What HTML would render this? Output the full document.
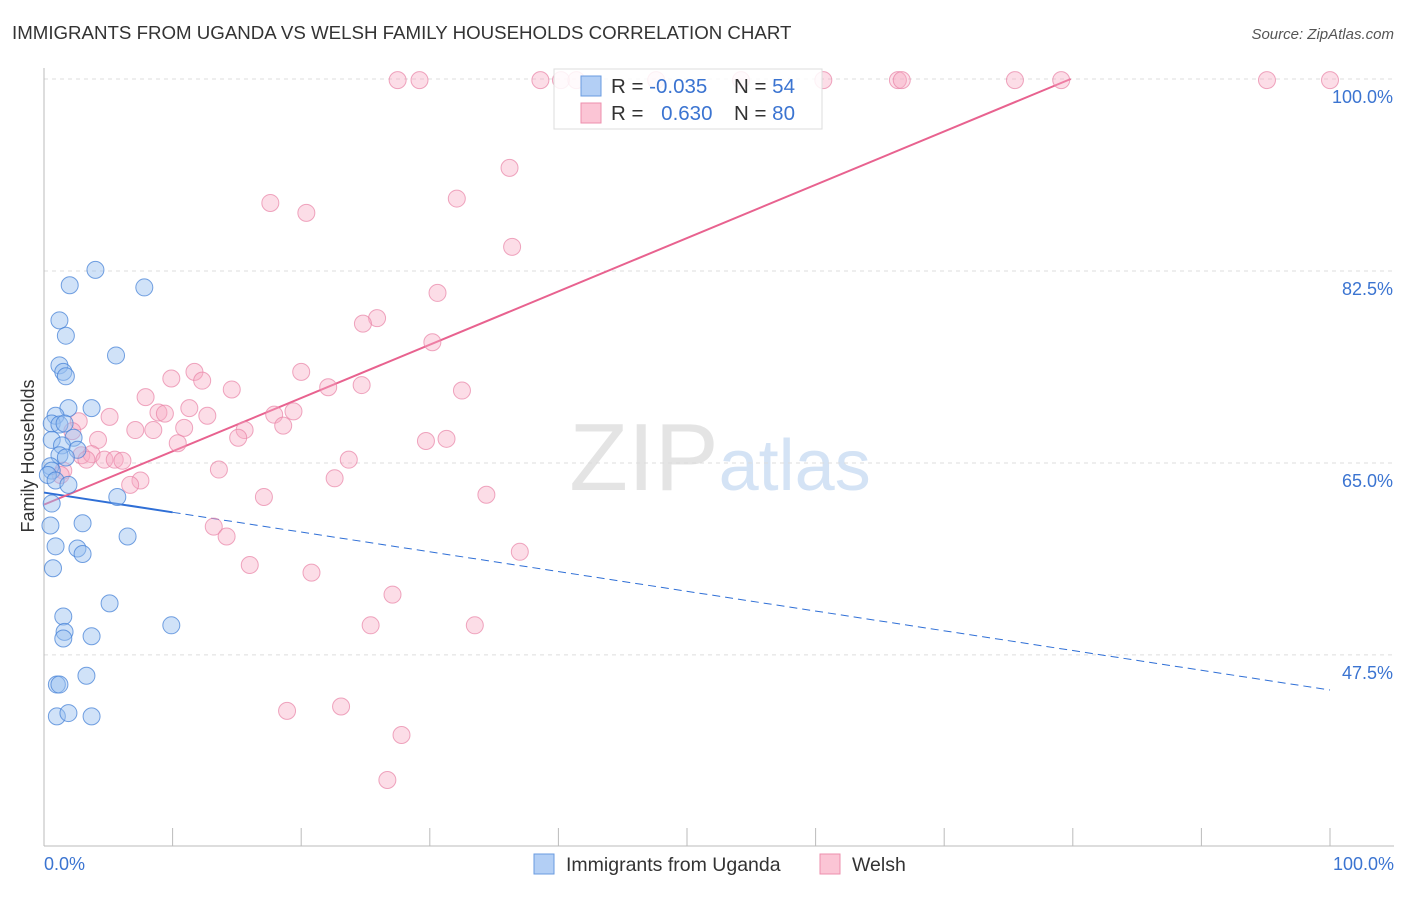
<!DOCTYPE html>
<html><head><meta charset="utf-8"><style>
body{margin:0;background:#fff;font-family:"Liberation Sans",sans-serif}
svg text{font-family:"Liberation Sans",sans-serif}
</style></head><body>
<svg id="chart" width="1406" height="892" xmlns="http://www.w3.org/2000/svg">
<text x="12" y="39" font-size="18.7" fill="#333">IMMIGRANTS FROM UGANDA VS WELSH FAMILY HOUSEHOLDS CORRELATION CHART</text>
<text x="1394" y="39" font-size="15" fill="#555" text-anchor="end" font-style="italic">Source: ZipAtlas.com</text>
<text x="720" y="490" font-size="96" text-anchor="middle" fill="#e4e4e4" font-family="Liberation Serif"><tspan>ZIP</tspan><tspan fill="#d4e3f5" font-family="Liberation Sans" font-size="72">atlas</tspan></text>
<g id="grid"></g><g id="axes"></g><g id="lines"></g><g id="pts"></g>
<text transform="translate(34,456) rotate(-90)" font-size="18" fill="#333" text-anchor="middle">Family Households</text>
<g>
<rect x="554" y="69" width="268" height="60" fill="#fff" fill-opacity="0.85" stroke="#ddd"/>
<rect x="581" y="76" width="20" height="20" fill="#b3cff5" stroke="#6a9be0"/>
<rect x="581" y="103" width="20" height="20" fill="#fbc5d5" stroke="#ee8fad"/>
<text x="611" y="93" font-size="20.5" fill="#333">R = <tspan fill="#3b74d1">-0.035</tspan></text>
<text x="734" y="93" font-size="20.5" fill="#333">N = <tspan fill="#3b74d1">54</tspan></text>
<text x="611" y="120" font-size="20.5" fill="#333">R = <tspan fill="#3b74d1" dx="12">0.630</tspan></text>
<text x="734" y="120" font-size="20.5" fill="#333">N = <tspan fill="#3b74d1">80</tspan></text>
</g>
<g>
<rect x="534" y="854" width="20" height="20" fill="#b3cff5" stroke="#6a9be0"/>
<text x="566" y="871" font-size="19.5" fill="#333">Immigrants from Uganda</text>
<rect x="820" y="854" width="20" height="20" fill="#fbc5d5" stroke="#ee8fad"/>
<text x="852" y="871" font-size="19.5" fill="#333">Welsh</text>
</g>
</svg>
<script>
const yTicks=[100,82.5,65,47.5];
const yTickLabels=["100.0%","82.5%","65.0%","47.5%"];
const blueX=[4.0,2.0,7.8,1.2,1.7,5.6,1.2,1.5,1.7,1.9,3.7,0.9,0.6,1.2,1.6,2.3,0.6,1.4,2.6,1.2,1.7,0.5,0.6,0.3,0.9,1.9,5.7,0.6,0.5,3.0,6.5,0.9,2.6,3.0,0.7,5.1,1.5,1.6,1.5,3.7,9.9,3.3,1.0,1.2,1.0,1.9,3.7];
const blueY=[82.6,81.2,81.0,78.0,76.6,74.8,73.9,73.3,72.9,70.0,70.0,69.3,68.6,68.5,68.6,67.3,67.1,66.6,66.2,65.7,65.5,64.7,64.3,63.9,63.4,63.0,61.9,61.3,59.3,59.5,58.3,57.4,57.2,56.7,55.4,52.2,51.0,49.6,49.0,49.2,50.2,45.6,44.8,44.8,41.9,42.2,41.9];
const pinkX=[27.5,29.2,38.6,40.2,41.4,47.6,54.2,60.6,66.4,66.7,75.5,79.1,95.1,100,36.2,32.1,17.6,20.4,36.4,30.6,25.9,24.8,30.2,11.7,20.0,9.9,12.3,14.6,22.1,24.7,32.5,7.9,11.3,19.4,8.9,9.4,17.9,12.7,5.1,2.7,18.6,7.1,8.5,10.9,15.6,2.2,15.1,4.2,10.4,29.7,31.3,2.9,3.7,4.7,5.5,6.1,3.3,23.7,13.6,1.5,1.3,7.5,6.7,22.6,17.1,34.4,13.2,14.2,37.0,16.0,20.8,27.1,25.4,33.5,18.9,23.1,27.8,26.7];
const pinkY=[99.9,99.9,99.9,99.9,99.9,99.9,99.9,99.9,99.9,99.9,99.9,99.9,99.9,99.9,91.9,89.1,88.7,87.8,84.7,80.5,78.2,77.7,76.0,73.3,73.3,72.7,72.5,71.7,71.9,72.1,71.6,71.0,70.0,69.7,69.6,69.5,69.4,69.3,69.2,68.8,68.4,68.0,68.0,68.2,68.0,67.9,67.3,67.1,66.8,67.0,67.2,65.7,65.8,65.3,65.3,65.2,65.3,65.3,64.4,64.3,63.9,63.4,63.0,63.6,61.9,62.1,59.2,58.3,56.9,55.7,55.0,53.0,50.2,50.2,42.4,42.8,40.2,36.1];
const blueTrend=[62.3,-0.18]; // intercept, slope
const pinkTrend=[61.2,0.486];
const X=v=>44+v*12.86, Y=v=>79+(100-v)*10.97;
const NS="http://www.w3.org/2000/svg";
function mk(t,a,p){const e=document.createElementNS(NS,t);for(const k in a)e.setAttribute(k,a[k]);document.getElementById(p).appendChild(e);return e;}
yTicks.forEach((t,i)=>{
 const g=mk('line',{x1:44,x2:1394,y1:Y(t),y2:Y(t),stroke:'#ddd','stroke-dasharray':'4,4'},'grid');
 
 
 const l=mk('text',{x:1393,y:Y(t)+24,'font-size':18,fill:'#3b74d1','text-anchor':'end'},'grid');
 l.textContent=yTickLabels[i];
 
 
});
let ax=mk('line',{x1:44,x2:44,y1:68,y2:846,stroke:'#bbb'},'axes');


ax=mk('line',{x1:44,x2:1394,y1:846,y2:846,stroke:'#bbb'},'axes');


for(let i=0;i<=10;i++){const t=mk('line',{x1:X(i*10),x2:X(i*10),y1:828,y2:846,stroke:'#bbb'},'axes');
 
 }
let tl=mk('text',{x:44,y:870,'font-size':18,fill:'#3b74d1'},'axes');tl.textContent='0.0%';


tl=mk('text',{x:1394,y:870,'font-size':18,fill:'#3b74d1','text-anchor':'end'},'axes');tl.textContent='100.0%';


pinkX.forEach((x,i)=>{const c=mk('circle',{cx:X(x),cy:Y(pinkY[i]),r:8.5,fill:'rgba(248,170,195,0.4)',stroke:'rgba(232,130,165,0.7)'},'pts');
 
 });
blueX.forEach((x,i)=>{const c=mk('circle',{cx:X(x),cy:Y(blueY[i]),r:8.5,fill:'rgba(150,190,240,0.45)',stroke:'rgba(70,130,215,0.75)'},'pts');
 
 });
const bt=v=>blueTrend[0]+blueTrend[1]*v, pt=v=>pinkTrend[0]+pinkTrend[1]*v;
let ln=mk('line',{x1:X(0),y1:Y(bt(0)),x2:X(10),y2:Y(bt(10)),stroke:'#2f6fd6','stroke-width':2},'lines');


ln=mk('line',{x1:X(10),y1:Y(bt(10)),x2:X(100),y2:Y(bt(100)),stroke:'#2f6fd6','stroke-width':1,'stroke-dasharray':'8,5'},'lines');


const pe=(100-pinkTrend[0])/pinkTrend[1];
ln=mk('line',{x1:X(0),y1:Y(pt(0)),x2:X(pe),y2:Y(pt(pe)),stroke:'#e8628f','stroke-width':2},'lines');


</script>
</body></html>
